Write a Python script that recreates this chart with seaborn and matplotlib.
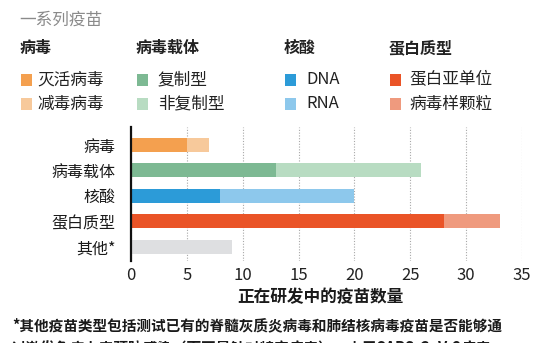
import matplotlib
matplotlib.use("Agg")
import matplotlib.pyplot as plt
from matplotlib.patches import Rectangle
import seaborn as sns
import pandas as pd

# Vaccine platforms and candidate counts
categories = ["病毒", "病毒载体", "核酸", "蛋白质型", "其他*"]
primary_counts = [5, 13, 8, 28, 9]
secondary_counts = [2, 13, 12, 5, 0]

primary_colors = ["#F4A04F", "#7DB993", "#2C9BD8", "#EA5427", "#DEDFE1"]
secondary_colors = ["#F7C99B", "#B8DCC2", "#8DC8EC", "#EF9A7E", "#DEDFE1"]

# Legend groups
group_names = ["病毒", "病毒载体", "核酸", "蛋白质型"]
primary_names = ["灭活病毒", "复制型", "DNA", "蛋白亚单位"]
secondary_names = ["减毒病毒", "非复制型", "RNA", "病毒样颗粒"]

x_ticks = [0, 5, 10, 15, 20, 25, 30, 35]
title_text = "一系列疫苗"
x_label = "正在研发中的疫苗数量"
footnote_lines = [
    "*其他疫苗类型包括测试已有的脊髓灰质炎病毒和肺结核病毒疫苗是否能够通",
    "过激发免疫力来预防感染（而不是针对特定病毒），由于SARS-CoV-2病毒",
]

sns.set_theme(style="white")
plt.rcParams["font.family"] = ["Noto Sans CJK SC", "DejaVu Sans"]

W, H = 550, 343
fig = plt.figure(figsize=(W / 100, H / 100), dpi=100)
fig.patch.set_facecolor("white")


def fx(px):
    return px / W


def fy(py):
    return 1 - py / H


ax = fig.add_axes([fx(131), fy(261), fx(522) - fx(131), fy(127) - fy(261)])

df = pd.DataFrame({
    "category": categories,
    "primary": primary_counts,
    "total": [a + b for a, b in zip(primary_counts, secondary_counts)],
})

sns.barplot(data=df, x="total", y="category", hue="category",
            palette=secondary_colors, legend=False, width=0.55,
            orient="h", ax=ax, saturation=1, zorder=3, linewidth=0)
sns.barplot(data=df, x="primary", y="category", hue="category",
            palette=primary_colors, legend=False, width=0.55,
            orient="h", ax=ax, saturation=1, zorder=4, linewidth=0)

ax.set_xlim(0, 35)
ax.set_ylim(4.56, -0.71)
ax.set_xticks(x_ticks)
ax.set_xticklabels([str(t) for t in x_ticks])
ax.set_xlabel("")
ax.set_ylabel("")
ax.grid(axis="x", linestyle=(0, (1, 1.5)), color="#a8a8a8", linewidth=0.8, zorder=0)
ax.grid(axis="y", visible=False)
for side in ["top", "right", "bottom"]:
    ax.spines[side].set_visible(False)
ax.spines["left"].set_color("#111111")
ax.spines["left"].set_linewidth(1.6)
ax.spines["left"].set_zorder(5)
ax.tick_params(axis="x", length=0, pad=4, labelsize=12, labelcolor="#222222")
ax.tick_params(axis="y", length=0, pad=11, labelsize=11.5, labelcolor="#1a1a1a")

# Title and legend block
fig.text(fx(19), fy(20), title_text, fontsize=12, color="#8a8a8a", va="center", ha="left")

group_x = [20, 136, 284, 389]
text_x = [37, 158, 306, 409]
for gx, tx, g, p, s, pc, sc in zip(group_x, text_x, group_names, primary_names,
                                   secondary_names, primary_colors, secondary_colors):
    fig.text(fx(gx), fy(48), g, fontsize=11.5, fontweight="bold", color="#222222",
             va="center", ha="left")
    for row_y, name, col in [(80, p, pc), (104, s, sc)]:
        fig.patches.append(Rectangle((fx(gx + 1), fy(row_y + 6)), fx(11), fy(0) - fy(12),
                                     transform=fig.transFigure, facecolor=col,
                                     edgecolor="none"))
        fig.text(fx(tx), fy(row_y), name, fontsize=12, color="#222222",
                 va="center", ha="left")

fig.text(fx(320), fy(297), x_label, fontsize=12, fontweight="bold", color="#1a1a1a",
         va="center", ha="center")
fig.text(fx(12), fy(325), footnote_lines[0], fontsize=10.5, fontweight="bold",
         color="#1a1a1a", va="center", ha="left")
fig.text(fx(12), fy(348), footnote_lines[1], fontsize=10.5, fontweight="bold",
         color="#1a1a1a", va="center", ha="left")

fig.savefig("out.png", dpi=100, facecolor="white")
